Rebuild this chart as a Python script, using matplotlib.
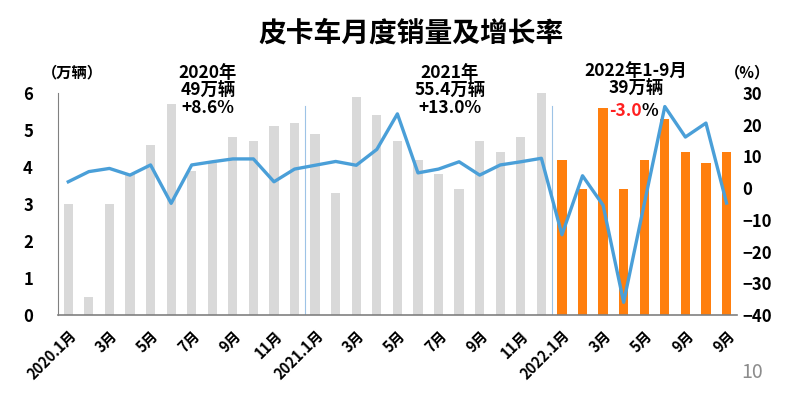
import matplotlib
matplotlib.use("Agg")
import matplotlib.pyplot as plt
import numpy as np

plt.rcParams['font.family'] = ['Noto Sans CJK SC', 'DejaVu Sans']

# monthly sales (10k units), 2020.1 - 2022.9
sales_2020 = [3.0, 0.5, 3.0, 3.8, 4.6, 5.7, 3.9, 4.1, 4.8, 4.7, 5.1, 5.2]
sales_2021 = [4.9, 3.3, 5.9, 5.4, 4.7, 4.2, 3.8, 3.4, 4.7, 4.4, 4.8, 6.0]
sales_2022 = [4.2, 3.4, 5.6, 3.4, 4.2, 5.3, 4.4, 4.1, 4.4]

# growth rate (%)
growth = [2.0, 5.2, 6.2, 4.1, 7.3, -4.8, 7.3, 8.3, 9.2, 9.2, 2.0, 6.0,
          7.2, 8.4, 7.2, 12.2, 23.4, 4.8, 6.0, 8.3, 4.1, 7.3, 8.3, 9.4,
          -14.7, 3.9, -5.4, -36.0, -5.0, 25.7, 16.1, 20.5, -4.7]

tick_labels = ["2020.1月", "3月", "5月", "7月", "9月", "11月",
               "2021.1月", "3月", "5月", "7月", "9月", "11月",
               "2022.1月", "3月", "5月", "9月", "9月"]

sales = sales_2020 + sales_2021 + sales_2022
x = np.arange(len(sales))
colors = ["#D9D9D9"] * 24 + ["#FF7F0E"] * 9

fig = plt.figure(figsize=(8, 3.98), dpi=100)
ax = fig.add_axes([0.0725, 0.2085, 0.8485, 0.558])
ax.bar(x, sales, width=0.45, color=colors, zorder=2)
ax.set_xlim(-0.5, 32.5)
ax.set_ylim(0, 6)
ax.set_yticks(range(0, 7))
ax.set_xticks(x[::2])
ax.set_xticklabels(tick_labels, rotation=45, ha='right', rotation_mode='anchor',
                   fontsize=10.5, fontweight='bold')
ax.tick_params(axis='y', length=0, labelsize=12, pad=18)
ax.tick_params(axis='x', length=0, pad=9)
for t in ax.get_yticklabels():
    t.set_fontweight('bold')
for s in ['top', 'right']:
    ax.spines[s].set_visible(False)
ax.spines['left'].set_color('#808080')
ax.spines['bottom'].set_color('#808080')
ax.spines['bottom'].set_linewidth(1.2)

# year separators
for xv in [11.5, 23.5]:
    ax.axvline(xv, ymin=0, ymax=0.94, color='#9DC3E6', lw=0.8, zorder=1)

ax2 = ax.twinx()
ax2.plot(x, growth, color='#4A9FD8', lw=2.4, zorder=3)
ax2.set_ylim(-40, 30)
ax2.set_yticks(range(-40, 31, 10))
ax2.tick_params(axis='y', length=0, labelsize=12, pad=4)
for t in ax2.get_yticklabels():
    t.set_fontweight('bold')
for s in ['top', 'right', 'left', 'bottom']:
    ax2.spines[s].set_visible(False)

fig.text(0.514, 0.915, "皮卡车月度销量及增长率", ha='center', va='center',
         fontsize=20, fontweight='bold')
fig.text(0.091, 0.818, "（万辆）", ha='center', va='center', fontsize=11, fontweight='bold')
fig.text(0.934, 0.818, "（%）", ha='center', va='center', fontsize=11, fontweight='bold')

fig.text(0.26, 0.772, "2020年\n49万辆\n+8.6%", ha='center', va='center',
         fontsize=12.5, fontweight='bold', linespacing=0.95)
fig.text(0.5625, 0.772, "2021年\n55.4万辆\n+13.0%", ha='center', va='center',
         fontsize=12.5, fontweight='bold', linespacing=0.95)
fig.text(0.795, 0.798, "2022年1-9月\n39万辆", ha='center', va='center',
         fontsize=12.5, fontweight='bold', linespacing=0.95)
fig.text(0.8025, 0.722, "-3.0", ha='right', va='center', color='#FF2020',
         fontsize=12.5, fontweight='bold')
fig.text(0.8025, 0.722, "%", ha='left', va='center',
         fontsize=12.5, fontweight='bold')

fig.text(0.94, 0.065, "10", ha='center', va='center', fontsize=14, color='#8C8C8C')

fig.savefig("out.png", dpi=100)
